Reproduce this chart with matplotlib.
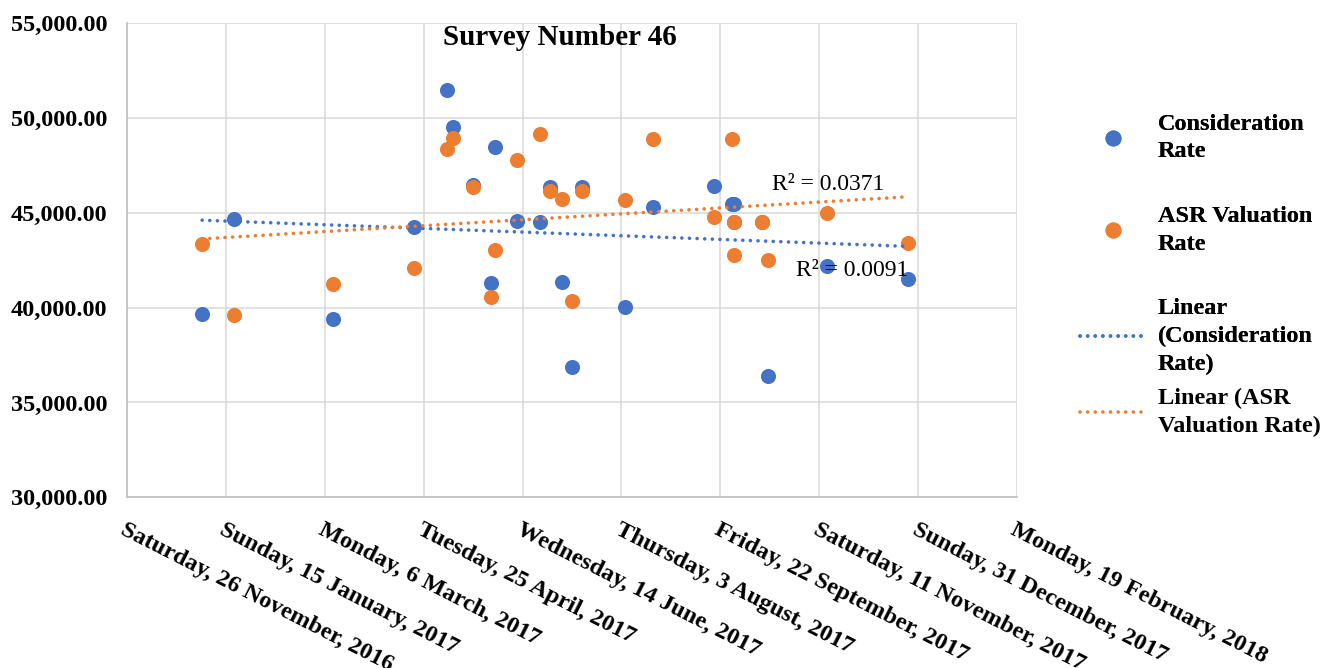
import numpy as np
import pandas as pd
import matplotlib
matplotlib.use("Agg")
import matplotlib.pyplot as plt
from matplotlib.lines import Line2D

# survey dates (shared by both series)
dates = pd.to_datetime([
    "2017-01-03", "2017-01-19", "2017-03-10", "2017-04-20", "2017-05-07",
    "2017-05-10", "2017-05-20", "2017-05-29", "2017-05-31", "2017-06-11",
    "2017-06-23", "2017-06-28", "2017-07-04", "2017-07-09", "2017-07-14",
    "2017-08-05", "2017-08-19", "2017-09-19", "2017-09-28", "2017-09-29",
    "2017-09-29", "2017-10-13", "2017-10-16", "2017-11-15", "2017-12-26",
])

consideration_rate = [
    39670, 44690, 39390, 44260, 51480, 49550, 46470, 41320, 48480, 44570,
    44540, 46350, 41360, 36860, 46380, 40050, 45330, 46420, 45470, 44500,
    45470, 44500, 36410, 42220, 41500,
]
asr_valuation_rate = [
    43340, 39630, 41230, 42090, 48370, 48970, 46380, 40580, 43040, 47790,
    49150, 46150, 45720, 40350, 46150, 45680, 48910, 44780, 48910, 44500,
    42760, 44500, 42520, 45010, 43410,
]

x_start = pd.Timestamp("2016-11-26")
x_end = pd.Timestamp("2018-02-19")
y_ticks = [30000, 35000, 40000, 45000, 50000, 55000]
r2_labels = ["R² = 0.0091", "R² = 0.0371"]

blue = "#4472C4"
orange = "#ED7D31"
serif = ["Liberation Serif", "DejaVu Serif"]
plt.rcParams["font.family"] = serif

fig = plt.figure(figsize=(13.22, 6.68), dpi=100)
ax = fig.add_axes([127 / 1322, 1 - 497.3 / 668, 890 / 1322, 474 / 668])

ax.scatter(dates, consideration_rate, s=118, color=blue, zorder=3, linewidths=0)
ax.scatter(dates, asr_valuation_rate, s=118, color=orange, zorder=4, linewidths=0)

# linear trendlines over the data range
dotted = dict(lw=2.6, linestyle=(0, (0.01, 2.1)), dash_capstyle="round")
days = np.asarray((dates - x_start).days, dtype=float)
ends = np.array([days.min(), days.max()])
end_dates = x_start + pd.to_timedelta(ends, unit="D")
for vals, col in [(consideration_rate, blue), (asr_valuation_rate, orange)]:
    k, b = np.polyfit(days, vals, 1)
    ax.plot(end_dates, k * ends + b, color=col, zorder=5, **dotted)

ax.set_xlim(x_start, x_end)
ax.set_ylim(30000, 55000)
ticks = pd.date_range(x_start, x_end, freq="50D")
ax.set_xticks(ticks)
ax.set_xticklabels([f"{d.day_name()}, {d.day} {d.month_name()}, {d.year}" for d in ticks],
                   rotation=-27, ha="left", va="top", rotation_mode="anchor",
                   fontsize=17.5, fontweight="bold")
ax.set_yticks(y_ticks)
ax.set_yticklabels([f"{v:,.2f}" for v in y_ticks], fontsize=17.5, fontweight="bold")
ax.tick_params(axis="x", length=0, pad=16)
ax.tick_params(axis="y", length=0, pad=14)

ax.grid(True, color="#d9d9d9", lw=1.1, zorder=0)
ax.set_axisbelow(True)
for side in ["top", "right"]:
    ax.spines[side].set_visible(False)
for side in ["left", "bottom"]:
    ax.spines[side].set_color("#bfbfbf")
    ax.spines[side].set_linewidth(1.2)

fig.text(559.5 / 1322, 1 - 45 / 668, "Survey Number 46", ha="center", va="baseline",
         fontsize=21, fontweight="bold")

fig.text(796 / 1322, 1 - 276 / 668, r2_labels[0], ha="left", va="baseline", fontsize=17)
fig.text(772 / 1322, 1 - 190 / 668, r2_labels[1], ha="left", va="baseline", fontsize=17)

# legend
h_blue = Line2D([], [], marker="o", color=blue, ls="none", markersize=10.5)
h_orange = Line2D([], [], marker="o", color=orange, ls="none", markersize=10.5)
h_lin_blue = Line2D([], [], color=blue, **dotted)
h_lin_orange = Line2D([], [], color=orange, **dotted)

leg_kw = dict(frameon=False, borderpad=0, borderaxespad=0, handlelength=2.7,
              handletextpad=0.5, loc="upper left",
              prop={"family": serif, "weight": "bold", "size": 17.5})
leg1 = fig.legend([h_blue, h_orange, h_lin_blue],
                  ["Consideration\nRate", "ASR Valuation\nRate", "Linear\n(Consideration\nRate)"],
                  bbox_to_anchor=(1080 / 1322, 1 - 114 / 668), labelspacing=1.8, **leg_kw)
fig.add_artist(leg1)
leg2 = fig.legend([h_lin_orange], ["Linear (ASR\nValuation Rate)"],
                  bbox_to_anchor=(1080 / 1322, 1 - 388 / 668), **leg_kw)
for leg in (leg1, leg2):
    for t in leg.get_texts():
        t.set_linespacing(1.4)

fig.savefig("out.png", dpi=100)
